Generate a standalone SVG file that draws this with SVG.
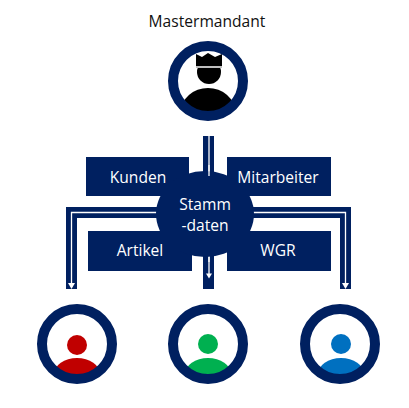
<svg xmlns="http://www.w3.org/2000/svg" width="409" height="408" viewBox="0 0 409 408">
<style>
text{font-family:"Open Sans","Noto Sans","Liberation Sans",sans-serif;font-size:15.6px;text-anchor:middle}
.w{fill:#fff}
.box{fill:#002060}
.ring{fill:none;stroke:#002060;stroke-width:10}
.bar{fill:none;stroke:#002060;stroke-width:11}
.wire{fill:none;stroke:#fff;stroke-width:1.3}
.tip{fill:#fff}
</style>
<defs>
<clipPath id="c1"><circle cx="208" cy="81" r="32"/></clipPath>
<clipPath id="c2"><circle cx="77" cy="344" r="32"/></clipPath>
<clipPath id="c3"><circle cx="208" cy="344" r="32"/></clipPath>
<clipPath id="c4"><circle cx="340" cy="344" r="32"/></clipPath>
</defs>
<rect width="409" height="408" fill="#fff"/>
<g id="connectors">
<path class="bar" d="M208.500 136V180"/>
<path class="bar" d="M208.500 250V289"/>
<path class="bar" d="M160 212.500H71.500V289"/>
<path class="bar" d="M250 212.500H345.500V289"/>
<path class="wire" d="M209 136V175"/>
<path class="wire" d="M209 255V274"/>
<path class="wire" d="M160 212.500H71.500V283"/>
<path class="wire" d="M250 212.500H345.500V283"/>
<path class="tip" d="M206 273.500h6l-3 5z"/>
<path class="tip" d="M68 283h7l-3.500 6z"/>
<path class="tip" d="M342 283h7l-3.500 6z"/>
</g>
<g id="kunden"><rect class="box" x="86" y="157" width="103" height="39"/><text class="w" x="138" y="183">Kunden</text></g>
<g id="mitarbeiter"><rect class="box" x="227" y="157" width="104" height="39"/><text class="w" x="278" y="183">Mitarbeiter</text></g>
<g id="artikel"><rect class="box" x="88" y="231" width="104" height="40"/><text class="w" x="140" y="256">Artikel</text></g>
<g id="wgr"><rect class="box" x="227" y="231" width="104" height="40"/><text class="w" x="278" y="256">WGR</text></g>
<g id="stammdaten"><ellipse class="box" cx="205" cy="214" rx="49" ry="43"/><path class="wire" d="M209 165V176"/><path class="wire" d="M209 257V262"/><text class="w" x="205" y="210">Stamm</text><text class="w" x="205" y="231">-daten</text></g>
<g id="mastermandant">
<text x="207" y="27" fill="#111">Mastermandant</text>
<g clip-path="url(#c1)"><ellipse cx="208" cy="112" rx="27" ry="24"/></g>
<circle cx="209" cy="72" r="12"/>
<path d="M196 54l6 3 6-4 7 4 7-3v12h-26z"/>
<rect x="196" y="66" width="26" height="2" fill="#bfbfbf"/>
<circle class="ring" cx="208" cy="81" r="35"/>
</g>
<g id="red">
<g clip-path="url(#c2)"><ellipse cx="77" cy="374" rx="23" ry="16" fill="#c00000"/></g>
<circle cx="77" cy="345" r="10" fill="#c00000"/>
<circle class="ring" cx="77" cy="344" r="35"/>
</g>
<g id="green">
<g clip-path="url(#c3)"><ellipse cx="208" cy="374" rx="23" ry="16" fill="#00b050"/></g>
<circle cx="208" cy="344" r="10" fill="#00b050"/>
<circle class="ring" cx="208" cy="344" r="35"/>
</g>
<g id="blue">
<g clip-path="url(#c4)"><ellipse cx="341" cy="374" rx="23" ry="16" fill="#0070c0"/></g>
<circle cx="341" cy="344" r="10" fill="#0070c0"/>
<circle class="ring" cx="340" cy="344" r="35"/>
</g>
</svg>
